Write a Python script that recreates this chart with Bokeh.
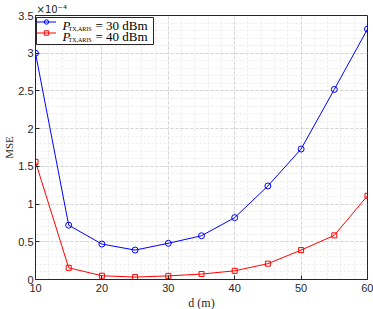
from bokeh.plotting import figure
from bokeh.models import Range1d, FixedTicker, Label, Legend, LegendItem, BoxAnnotation, Title
from bokeh.embed import file_html
from bokeh.resources import INLINE

# ---- data (MSE in units of 1e-4) ----
distance_m = [10, 15, 20, 25, 30, 35, 40, 45, 50, 55, 60]
mse_30dbm = [3.00, 0.72, 0.47, 0.39, 0.48, 0.58, 0.82, 1.24, 1.73, 2.52, 3.32]
mse_40dbm = [1.56, 0.155, 0.05, 0.032, 0.048, 0.072, 0.115, 0.21, 0.39, 0.585, 1.11]
x_ticks = [10, 20, 30, 40, 50, 60]
y_ticks = [0, 0.5, 1, 1.5, 2, 2.5, 3, 3.5]
y_tick_labels = ["0", "0.5", "1", "1.5", "2", "2.5", "3", "3.5"]
series_suffix = ["= 30 dBm", "= 40 dBm"]
series_colors = ["#0000ff", "#ff0000"]

SERIF = "Liberation Serif"
SANS = "Liberation Sans"
AX = "#262626"

FW, FH = 332, 264
p = figure(frame_width=FW, frame_height=FH, output_backend="svg", toolbar_location=None,
           x_range=Range1d(10, 60), y_range=Range1d(0, 3.5),
           min_border_left=35, min_border_right=6, min_border_top=14,
           min_border_bottom=31)
p.outline_line_color = AX
p.outline_line_width = 1

# exponent above the axis
p.add_layout(Title(text="×10⁻⁴", text_font="DejaVu Sans", text_font_size="10px",
                   text_font_style="normal", text_color=AX, align="left", offset=1,
                   standoff=2), "above")

for ax in (p.xaxis[0], p.yaxis[0]):
    ax.axis_line_color = AX
    ax.major_tick_line_color = AX
    ax.major_tick_in = 4
    ax.major_tick_out = 0
    ax.minor_tick_in = 0
    ax.minor_tick_out = 0
    ax.major_label_text_font = SANS
    ax.major_label_text_font_size = "11px"
    ax.major_label_text_color = AX
    ax.axis_label_text_font = SERIF
    ax.axis_label_text_font_style = "normal"
    ax.axis_label_text_color = AX

p.xaxis.ticker = FixedTicker(ticks=x_ticks, minor_ticks=list(range(10, 61, 2)))
p.yaxis.ticker = FixedTicker(ticks=y_ticks, minor_ticks=[i / 10 for i in range(0, 36)])
p.yaxis.major_label_overrides = {t: l for t, l in zip(y_ticks, y_tick_labels)}
p.xaxis.major_label_standoff = 4
p.yaxis.major_label_standoff = 2
p.xaxis.axis_label = "d (m)"
p.xaxis.axis_label_text_font_size = "12px"
p.xaxis.axis_label_standoff = 1
p.yaxis.axis_label = "MSE"
p.yaxis.axis_label_text_font_size = "11px"
p.yaxis.axis_label_standoff = 0

for g in (p.xgrid[0], p.ygrid[0]):
    g.grid_line_color = "#d4d4d4"
    g.grid_line_dash = "3 2"
    g.minor_grid_line_color = "#ebebeb"
    g.minor_grid_line_dash = "2 2"

r1 = p.line(distance_m, mse_30dbm, line_color=series_colors[0], line_width=1)
m1 = p.scatter(distance_m, mse_30dbm, marker="circle", size=6, line_color=series_colors[0],
               fill_color=None, line_width=1)
r2 = p.line(distance_m, mse_40dbm, line_color=series_colors[1], line_width=1)
m2 = p.scatter(distance_m, mse_40dbm, marker="square", size=5, line_color=series_colors[1],
               fill_color=None, line_width=1)

# legend frame (white box), positioned from pixel offsets within the frame
px_x = 50 / FW
px_y = 3.5 / FH
p.add_layout(BoxAnnotation(left=10 + 1 * px_x, right=10 + 118 * px_x,
                           top=3.5 - 2 * px_y, bottom=3.5 - 29 * px_y,
                           fill_color="white", fill_alpha=1,
                           line_color=AX, line_width=1, line_alpha=1))

legend = Legend(items=[LegendItem(label="", renderers=[r1, m1]),
                       LegendItem(label="", renderers=[r2, m2])],
                location="top_left", margin=1, padding=3, spacing=0,
                glyph_width=20, glyph_height=11, label_height=11, label_width=10,
                label_standoff=0, border_line_color=None,
                background_fill_alpha=0)
p.add_layout(legend)

def lab(dx, dy, text, size="13px", style="normal"):
    p.add_layout(Label(x=10, y=3.5, x_offset=dx, y_offset=dy, text=text, text_font=SERIF,
                       text_font_style=style, text_font_size=size, text_color="black",
                       text_baseline="middle", text_align="left", level="overlay"))

for i, suf in enumerate(series_suffix):
    yo = -10 - 11 * i
    lab(27, yo, "P", style="italic")
    lab(33, yo - 3, "TX,ARIS", size="6px")
    lab(60, yo, suf)

open("out.html", "w").write(file_html(p, INLINE))
